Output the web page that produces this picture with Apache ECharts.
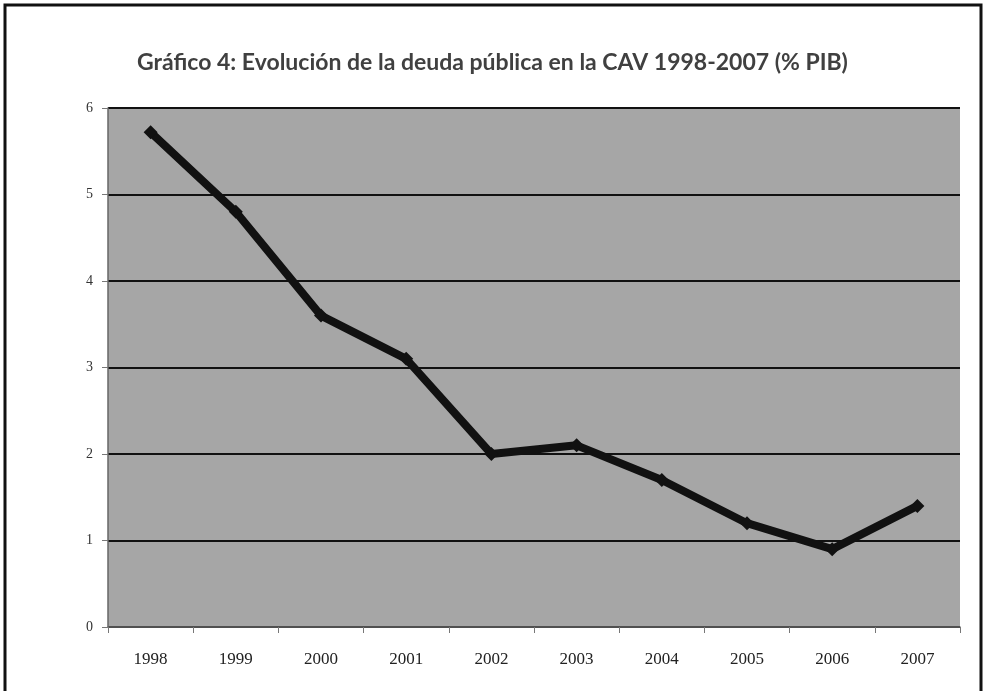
<!DOCTYPE html>
<html lang="es">
<head>
    <meta charset="UTF-8">
    <title>Gráfico 4</title>
    <script src="https://cdn.jsdelivr.net/npm/echarts@6/dist/echarts.min.js"></script>
    <style>
        html, body { margin: 0; padding: 0; background: #fff; }
    </style>
</head>
<body>
<div id="main" style="width: 985px;height:691px;"></div>
<script>
    var years = ['1998', '1999', '2000', '2001', '2002', '2003', '2004', '2005', '2006', '2007'];
    var deuda = [5.72, 4.8, 3.6, 3.1, 2.0, 2.1, 1.7, 1.2, 0.9, 1.4];
    var yTicks = [0, 1, 2, 3, 4, 5, 6];

    var myChart = echarts.init(document.getElementById('main'));
    var option = {
        animation: false,
        backgroundColor: '#ffffff',
        title: {
            text: 'Gráfico 4: Evolución de la deuda pública en la CAV 1998-2007 (% PIB)',
            left: 'center',
            top: 46,
            textStyle: {
                fontFamily: 'Lato',
                fontWeight: 'bold',
                fontSize: 23,
                color: '#404040'
            }
        },
        graphic: [
            {
                type: 'polyline',
                shape: { points: [[5, 691], [5, 5], [981, 5], [981, 691]] },
                style: { stroke: '#111', lineWidth: 3, fill: null }
            }
        ],
        grid: {
            left: 108,
            right: 25,
            top: 108,
            bottom: 64,
            show: true,
            backgroundColor: '#a6a6a6',
            borderWidth: 0
        },
        xAxis: {
            type: 'category',
            data: years,
            boundaryGap: true,
            axisLine: { lineStyle: { color: '#666', width: 1.5 } },
            axisTick: { show: true, length: 6, lineStyle: { color: '#777' } },
            axisLabel: {
                margin: 24,
                fontFamily: 'Liberation Serif',
                fontSize: 17,
                color: '#222'
            }
        },
        yAxis: {
            type: 'value',
            min: yTicks[0],
            max: yTicks[yTicks.length - 1],
            interval: 1,
            axisLine: { show: true, lineStyle: { color: '#666', width: 1.5 } },
            axisTick: { show: true, length: 6, lineStyle: { color: '#777' } },
            splitLine: { show: true, lineStyle: { color: '#111', width: 2 } },
            axisLabel: {
                margin: 15,
                fontFamily: 'Liberation Serif',
                fontSize: 14,
                color: '#333'
            }
        },
        series: [
            {
                name: 'Deuda pública',
                type: 'line',
                data: deuda,
                symbol: 'diamond',
                symbolSize: 14,
                itemStyle: { color: '#111' },
                lineStyle: { color: '#111', width: 8 }
            }
        ]
    };
    myChart.setOption(option);
</script>
</body>
</html>
